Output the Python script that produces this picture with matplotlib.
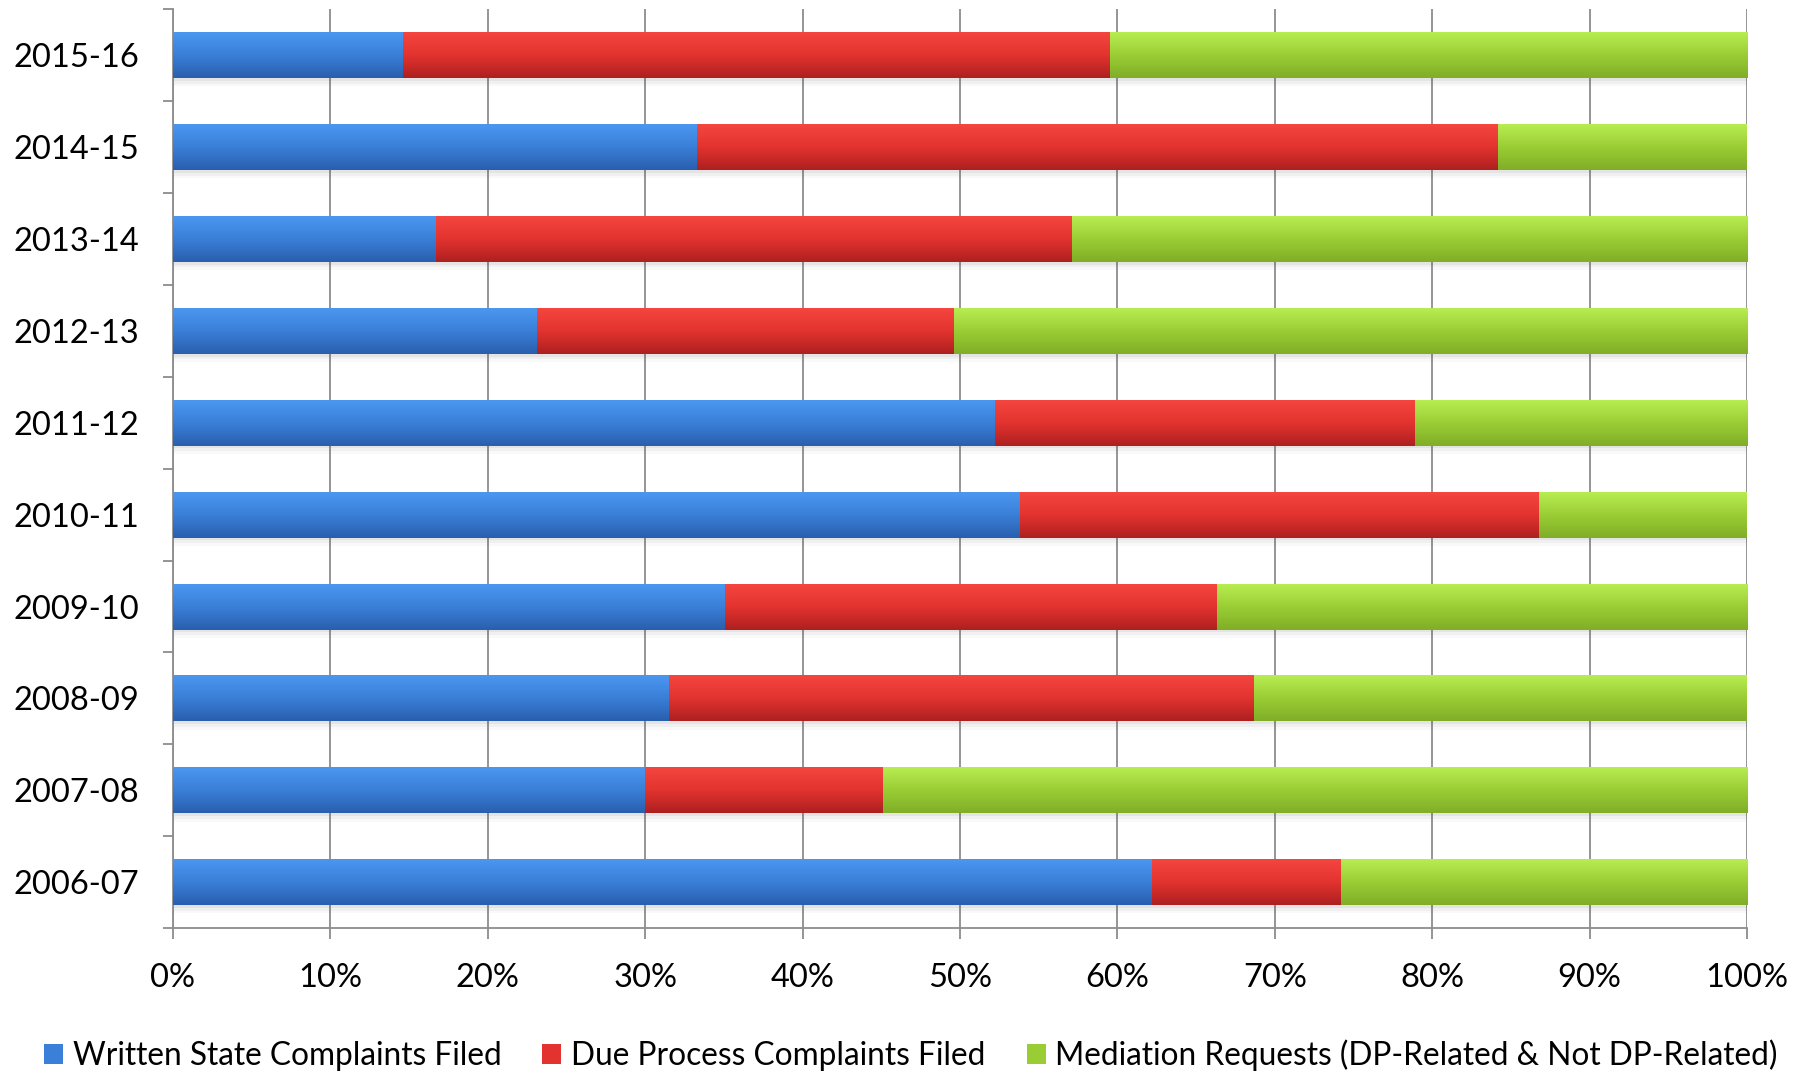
import numpy as np
import matplotlib
matplotlib.use("Agg")
import matplotlib.pyplot as plt
from matplotlib.colors import LinearSegmentedColormap
from matplotlib.ticker import FixedLocator, PercentFormatter

plt.rcParams["font.family"] = ["Lato", "DejaVu Sans"]

# dados (percentual, de cima para baixo)
anos = ["2015-16", "2014-15", "2013-14", "2012-13", "2011-12",
        "2010-11", "2009-10", "2008-09", "2007-08", "2006-07"]
escritas = [14.6, 33.3, 16.7, 23.1, 52.2, 53.8, 35.1, 31.5, 30.0, 62.2]
devido_processo = [44.9, 50.9, 40.4, 26.5, 26.7, 33.0, 31.2, 37.2, 15.1, 12.0]
mediacao = [100 - a - b for a, b in zip(escritas, devido_processo)]

series = ["Written State Complaints Filed", "Due Process Complaints Filed",
          "Mediation Requests (DP-Related & Not DP-Related)"]
cores = ["#3A7FD8", "#E2332F", "#9ACD34"]
gradientes = [("#4B97F0", "#3A7FD8", "#2A5FAE"),
              ("#F5453F", "#E2332F", "#AE2020"),
              ("#B8ED52", "#9ACD34", "#80AE28")]

fig = plt.figure(figsize=(18.07, 10.78), dpi=100)
ax = fig.add_axes([0.0957, 0.139, 0.8711, 0.8524])

y = np.arange(len(anos))[::-1]
totais = np.array(escritas) + np.array(devido_processo) + np.array(mediacao)

# sombra suave abaixo das barras
for desloc, alfa in [(0.03, 0.07), (0.06, 0.05), (0.09, 0.03)]:
    ax.barh(y - desloc, totais, height=0.5, color="#505050", alpha=alfa, zorder=2)

esquerda = np.zeros(len(anos))
for nome, valores, cor, grad in zip(series, [escritas, devido_processo, mediacao], cores, gradientes):
    barras = ax.barh(y, valores, left=esquerda, height=0.5, color=cor, label=nome, zorder=3)
    cmap = LinearSegmentedColormap.from_list("g", list(grad))
    for b in barras:
        x0, y0 = b.get_x(), b.get_y()
        img = ax.imshow(np.linspace(0, 1, 64).reshape(-1, 1), cmap=cmap, aspect="auto",
                        extent=[x0, x0 + b.get_width(), y0, y0 + b.get_height()],
                        origin="upper", zorder=3.5, interpolation="bilinear")
        img.set_clip_path(b)
    esquerda += np.array(valores)

ax.set_xlim(0, 100)
ax.set_ylim(-0.5, len(anos) - 0.5)
ax.set_aspect("auto")

ax.xaxis.set_major_locator(FixedLocator(np.arange(0, 101, 10)))
ax.xaxis.set_major_formatter(PercentFormatter(decimals=0))
ax.set_yticks(y)
ax.set_yticklabels(anos)
ax.yaxis.set_minor_locator(FixedLocator(np.arange(-0.5, len(anos), 1)))

ax.tick_params(axis="y", which="major", length=0, pad=24, labelsize=23.5)
ax.tick_params(axis="y", which="minor", length=7, width=1.3, color="#8C8C8C", direction="out")
ax.tick_params(axis="x", which="major", length=8, width=1.3, color="#8C8C8C", pad=17, labelsize=23.5)

ax.grid(axis="x", color="#8C8C8C", linewidth=1.3, zorder=0)
for lado in ["top", "right"]:
    ax.spines[lado].set_visible(False)
for lado in ["left", "bottom"]:
    ax.spines[lado].set_color("#8C8C8C")
    ax.spines[lado].set_linewidth(1.3)

fig.legend(loc="center", bbox_to_anchor=(0.504, 0.021), ncol=3, frameon=False,
           fontsize=22.8, handlelength=0.6, handleheight=0.6, handletextpad=0.3,
           columnspacing=1.3)

fig.savefig("out.png", dpi=100)
